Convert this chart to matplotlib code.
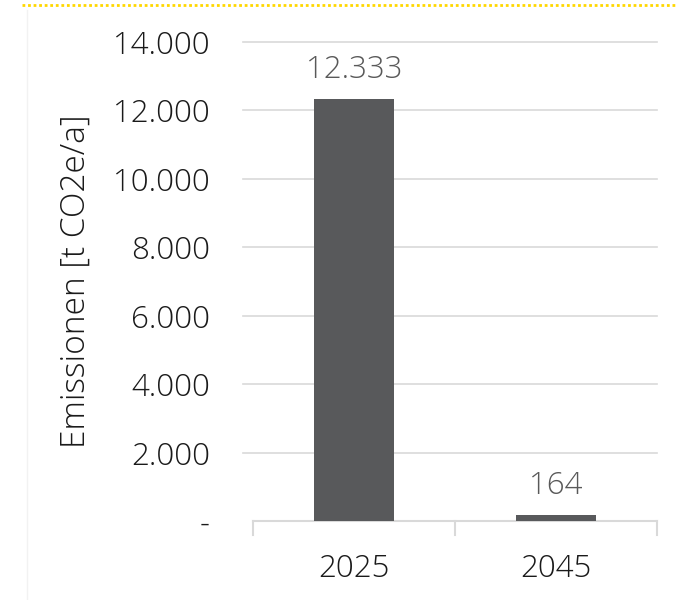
import matplotlib.pyplot as plt
from matplotlib.lines import Line2D

years = ['2025', '2045']
emissions = [12333, 164]
y_ticks = [0, 2000, 4000, 6000, 8000, 10000, 12000, 14000]
y_labels = ['-', '2.000', '4.000', '6.000', '8.000', '10.000', '12.000', '14.000']
value_labels = ['12.333', '164']

plt.rcParams['font.family'] = ['Open Sans', 'DejaVu Sans']
plt.rcParams['font.weight'] = 'light'
fs = 22.5

fig = plt.figure(figsize=(6.78, 6.0), dpi=100)
ax = fig.add_axes([253 / 678, 1 - 521 / 600, 404 / 678, (521 - 42) / 600])

x = range(len(years))
ax.bar(x, emissions, width=0.4, color='#58595b', zorder=3)
ax.set_xlim(-0.5, 1.5)
ax.set_ylim(0, 14000)

ax.set_yticks(y_ticks)
ax.set_yticklabels(y_labels, fontsize=fs, color='#1a1a1a')
ax.set_xticks(list(x))
ax.set_xticklabels(years, fontsize=fs, color='#1a1a1a')
ax.tick_params(axis='y', length=0, pad=31)
ax.tick_params(axis='x', length=0, pad=23)

# category separator ticks below the axis
for xt in [-0.5, 0.5, 1.5]:
    ax.plot([xt, xt], [0, -420], color='#d9d9d9', linewidth=1.5, clip_on=False, zorder=2)

for y in y_ticks[1:]:
    ax.plot([-0.55, 1.5], [y, y], color='#d9d9d9', linewidth=1.2, clip_on=False, zorder=1)

for s in ['top', 'right', 'left']:
    ax.spines[s].set_visible(False)
ax.spines['bottom'].set_color('#d9d9d9')
ax.spines['bottom'].set_linewidth(1.5)

for xi, v, lab in zip(x, emissions, value_labels):
    ax.text(xi, v + 380, lab, ha='center', va='bottom', fontsize=fs, color='#595959')

fig.text(76 / 678, 1 - 281 / 600, 'Emissionen [t CO2e/a]', rotation=90, ha='center', va='center',
         fontsize=24, color='#1a1a1a')

# frame decorations
fig.add_artist(Line2D([22 / 678, 1], [1 - 5 / 600, 1 - 5 / 600], color='#ffd700', linewidth=2,
                      linestyle=(0, (1, 1))))
fig.add_artist(Line2D([27 / 678, 27 / 678], [0, 1 - 10 / 600], color='#f2f2f2', linewidth=1))

fig.savefig('out.png', dpi=100)
